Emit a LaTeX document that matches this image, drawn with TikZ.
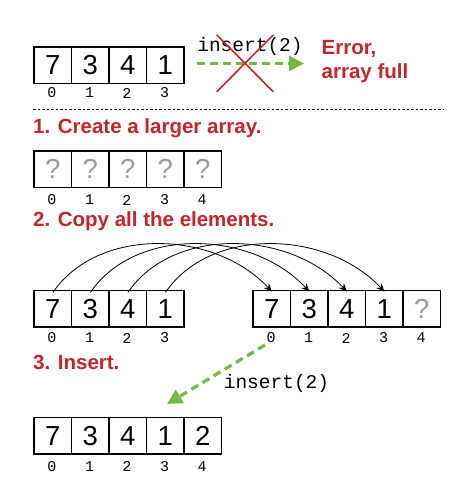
\documentclass[tikz,border=0pt]{standalone}
\usepackage{fontspec}
\setmainfont{Liberation Sans}
\setmonofont{Liberation Mono}
\usetikzlibrary{arrows.meta}
\definecolor{errred}{HTML}{C1272D}
\definecolor{arrgreen}{HTML}{76B843}
\definecolor{qgrey}{HTML}{9A9A9A}
\tikzset{
  cell/.style={draw=black, line width=1.6pt, minimum width=37.5pt, minimum height=36.5pt,
    inner sep=0pt, font=\fontsize{27.5}{27.5}\selectfont, anchor=north west},
  qcell/.style={cell, text=qgrey},
  idx/.style={font=\ttfamily\fontsize{15}{15}\selectfont, inner sep=0pt},
  head/.style={font=\bfseries\fontsize{20.5}{24}\selectfont, text=errred, anchor=west, inner sep=0pt},
  code/.style={font=\ttfamily\fontsize{19.5}{19.5}\selectfont, inner sep=0pt},
  garrow/.style={draw=arrgreen, line width=3.2pt, dash pattern=on 8pt off 5pt,
    -{Triangle[length=15pt,width=15pt]}},
  copyarrow/.style={draw=black, line width=0.8pt, -{Stealth[length=8pt,width=7pt]}},
  xline/.style={draw=errred, line width=1.6pt}
}
\begin{document}
\begin{tikzpicture}[x=1pt,y=-1pt]
\useasboundingbox (0,0) rectangle (476,488);

% ---- top array ----
\foreach \v [count=\i from 0] in {7,3,4,1} {
  \node[cell] (t\i) at (33.3+37.5*\i,46) {\v};
  \node[idx] (ti\i) at (52+37.5*\i,93) {\i};
}
\node[code] (ins1) at (250,46.5) {insert(2)};
\coordinate (g1s) at (197,63.5);
\coordinate (g1e) at (304,63.5);
\draw[garrow] (g1s) -- (g1e);
\coordinate (x1) at (216.7,35);
\coordinate (x2) at (273.3,91.7);
\coordinate (x3) at (273.3,35);
\coordinate (x4) at (216.7,91.7);
\draw[xline] (x1) -- (x2);
\draw[xline] (x3) -- (x4);
\node[head, align=left] (err) at (321.5,61.5) {Error,\\array full};

% ---- dotted separator ----
\coordinate (d1) at (33,109);
\coordinate (d2) at (443,109);
\draw[line width=0.9pt, dash pattern=on 2.5pt off 2pt] (d1) -- (d2);

% ---- step 1 ----
\node[head] (h1) at (33,128) {1. Create a larger array.};
\foreach \i in {0,...,4} {
  \node[qcell] (q\i) at (33.3+37.5*\i,150) {?};
  \node[idx] (qi\i) at (52+37.5*\i,200) {\i};
}

% ---- step 2 ----
\node[head] (h2) at (33,221.5) {2. Copy all the elements.};
\foreach \v [count=\i from 0] in {7,3,4,1} {
  \node[cell] (l\i) at (33.3+37.5*\i,289.5) {\v};
  \node[idx] (li\i) at (52+37.5*\i,338) {\i};
}
\foreach \v [count=\i from 0] in {7,3,4,1} {
  \node[cell] (r\i) at (252.3+37.5*\i,289.5) {\v};
  \node[idx] (ri\i) at (271+37.5*\i,338) {\i};
}
\node[qcell] (r4) at (252.3+150,289.5) {?};
\node[idx] (ri4) at (271+150,338) {4};
\foreach \i in {0,...,3} {
  \draw[copyarrow] ([yshift=-3pt]l\i.north) .. controls +(45,-66) and +(-58,-62) .. ([yshift=-2pt]r\i.north);
}

% ---- step 3 ----
\node[head] (h3) at (33,362.5) {3. Insert.};
\coordinate (g2s) at (265,345);
\coordinate (g2e) at (167,404);
\draw[garrow] (g2s) -- (g2e);
\node[code] (ins2) at (276.5,383) {insert(2)};
\foreach \v [count=\i from 0] in {7,3,4,1,2} {
  \node[cell] (b\i) at (33.3+37.5*\i,416.5) {\v};
  \node[idx] (bi\i) at (52+37.5*\i,466.5) {\i};
}
\end{tikzpicture}
\end{document}
